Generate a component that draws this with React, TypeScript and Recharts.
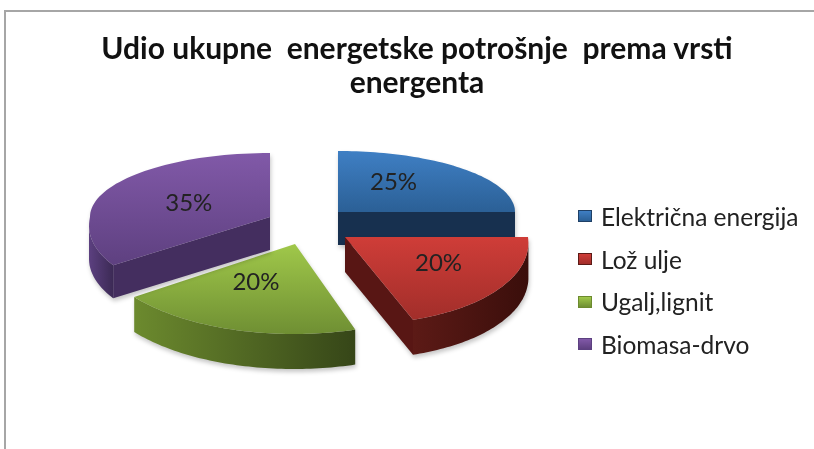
import { PieChart, Pie, Legend } from 'recharts'

const categories = ['Električna energija', 'Lož ulje', 'Ugalj,lignit', 'Biomasa-drvo']
const shares = [25, 20, 20, 35]
const titleLines = ['Udio ukupne  energetske potrošnje  prema vrsti', 'energenta']

const data = categories.map((name, i) => ({ name, value: shares[i] }))

// each exploded slice sits in its own foreshortened plane
const apexX = [338, 345, 295, 270]
const apexY = [212, 237, 244, 217]
const radiusX = [177, 183, 198, 180]
const radiusBack = [61, 61, 61, 64]
const radiusFront = [61, 87, 90, 82]
const shearFront = [0, 12, -1, -19]
const depth = [33, 35, 35, 33]
const labelShift = [[-7, -7], [16, 2], [-8, -3], [-1, 2]]

const topLight = ['#3f7fc4', '#cf3d38', '#a0c84a', '#8159a8']
const topDark = ['#2b6096', '#a22e2a', '#6f8f33', '#5e4080']
const cutWall = ['#17304f', '#581614', '#3f5219', '#442e5f']
const wallLight = ['#1f4066', '#5c1a16', '#6c8a2e', '#5c4080']
const wallDark = ['#17304f', '#3a0e0b', '#364618', '#3c2a55']

const project = (i: number, deg: number, f = 1) => {
  const u = Math.cos((deg * Math.PI) / 180)
  const v = -Math.sin((deg * Math.PI) / 180)
  return {
    x: apexX[i] + f * (u * radiusX[i] + Math.max(v, 0) * shearFront[i]),
    y: apexY[i] + f * v * (v > 0 ? radiusFront[i] : radiusBack[i]),
  }
}

const toPath = (pts: { x: number; y: number }[]) =>
  pts.map((p, k) => `${k ? 'L' : 'M'}${p.x.toFixed(1)},${p.y.toFixed(1)}`).join(' ') + ' Z'

const wallPath = (pts: { x: number; y: number }[], d: number) =>
  toPath([...pts, ...[...pts].reverse().map((p) => ({ x: p.x, y: p.y + d }))])

function Slice(props: any) {
  const { startAngle, endAngle, index: i } = props
  const steps = 60
  const arc = Array.from({ length: steps + 1 }, (_, k) =>
    project(i, startAngle + ((endAngle - startAngle) * k) / steps),
  )
  const apex = { x: apexX[i], y: apexY[i] }
  const first = arc[0]
  const last = arc[arc.length - 1]

  // only edges running leftwards on screen face the viewer
  const arcRuns: { x: number; y: number }[][] = []
  let run: { x: number; y: number }[] = []
  arc.forEach((p, k) => {
    if (k && p.x < arc[k - 1].x) {
      if (!run.length) run.push(arc[k - 1])
      run.push(p)
    } else if (run.length) {
      arcRuns.push(run)
      run = []
    }
  })
  if (run.length) arcRuns.push(run)

  return (
    <g style={{ filter: 'drop-shadow(1px 3px 2px rgba(0,0,0,0.22))' }}>
      {first.x < apex.x - 1 && <path d={wallPath([apex, first], depth[i])} fill={cutWall[i]} />}
      {last.x > apex.x + 1 && <path d={wallPath([last, apex], depth[i])} fill={cutWall[i]} />}
      {arcRuns.map((r, k) => (
        <path key={k} d={wallPath(r, depth[i])} fill={`url(#wall${i})`} />
      ))}
      <path d={toPath([apex, ...arc])} fill={`url(#top${i})`} />
    </g>
  )
}

function PercentLabel(props: any) {
  const { midAngle, index: i, percent } = props
  const p = project(i, midAngle, 0.5)
  return (
    <text
      x={p.x + labelShift[i][0]}
      y={p.y + labelShift[i][1]}
      textAnchor="middle"
      dominantBaseline="middle"
      fontFamily="Lato"
      fontSize={24}
      fill="#222"
    >
      {`${Math.round(percent * 100)}%`}
    </text>
  )
}

function LegendList({ payload }: any) {
  return (
    <div>
      {(payload ?? []).map((entry: any, i: number) => (
        <div key={entry.value} style={{ display: 'flex', alignItems: 'center', height: 42.7 }}>
          <span
            style={{
              width: 14,
              height: 12,
              marginRight: 9,
              background: `linear-gradient(${topLight[i]}, ${topDark[i]})`,
              border: `1px solid ${wallLight[i]}`,
              boxSizing: 'border-box',
            }}
          />
          <span style={{ fontFamily: 'Lato', fontSize: 24.5, color: '#222', whiteSpace: 'nowrap' }}>
            {entry.value}
          </span>
        </div>
      ))}
    </div>
  )
}

export default function App() {
  return (
    <div style={{ position: 'fixed', left: 0, top: 0, width: 814, height: 449, background: '#fff', overflow: 'hidden' }}>
      <div
        style={{
          position: 'absolute',
          left: 4,
          top: 10,
          right: -4,
          bottom: -4,
          borderLeft: '2px solid #a6a6a6',
          borderTop: '2px solid #a6a6a6',
        }}
      />
      <div style={{ position: 'absolute', left: 0, top: 0, filter: 'blur(0.5px)' }}>
        <PieChart width={814} height={449} margin={{ top: 0, right: 0, bottom: 0, left: 0 }}>
          <defs>
            {categories.map((_, i) => (
              <linearGradient key={i} id={`top${i}`} x1="0" y1="0" x2="0" y2="1">
                <stop offset="0%" stopColor={topLight[i]} />
                <stop offset="100%" stopColor={topDark[i]} />
              </linearGradient>
            ))}
            {categories.map((_, i) => (
              <linearGradient key={i} id={`wall${i}`} x1="0" y1="0" x2="1" y2="0">
                <stop offset="0%" stopColor={wallLight[i]} />
                <stop offset="100%" stopColor={wallDark[i]} />
              </linearGradient>
            ))}
          </defs>
          {titleLines.map((line, i) => (
            <text
              key={line}
              x={417}
              y={59 + i * 34}
              textAnchor="middle"
              fontFamily="Lato"
              fontWeight={700}
              fontSize={30}
              fill="#111"
              style={{ whiteSpace: 'pre' }}
            >
              {line}
            </text>
          ))}
          <Pie
            data={data}
            dataKey="value"
            nameKey="name"
            cx={300}
            cy={250}
            outerRadius={100}
            startAngle={90}
            endAngle={-270}
            stroke="none"
            shape={Slice}
            label={PercentLabel}
            labelLine={false}
            isAnimationActive={false}
          />
          <Legend
            layout="vertical"
            align="left"
            verticalAlign="top"
            content={LegendList}
            itemSorter={null}
            wrapperStyle={{ left: 578, top: 195, width: 230 }}
          />
        </PieChart>
      </div>
    </div>
  )
}
